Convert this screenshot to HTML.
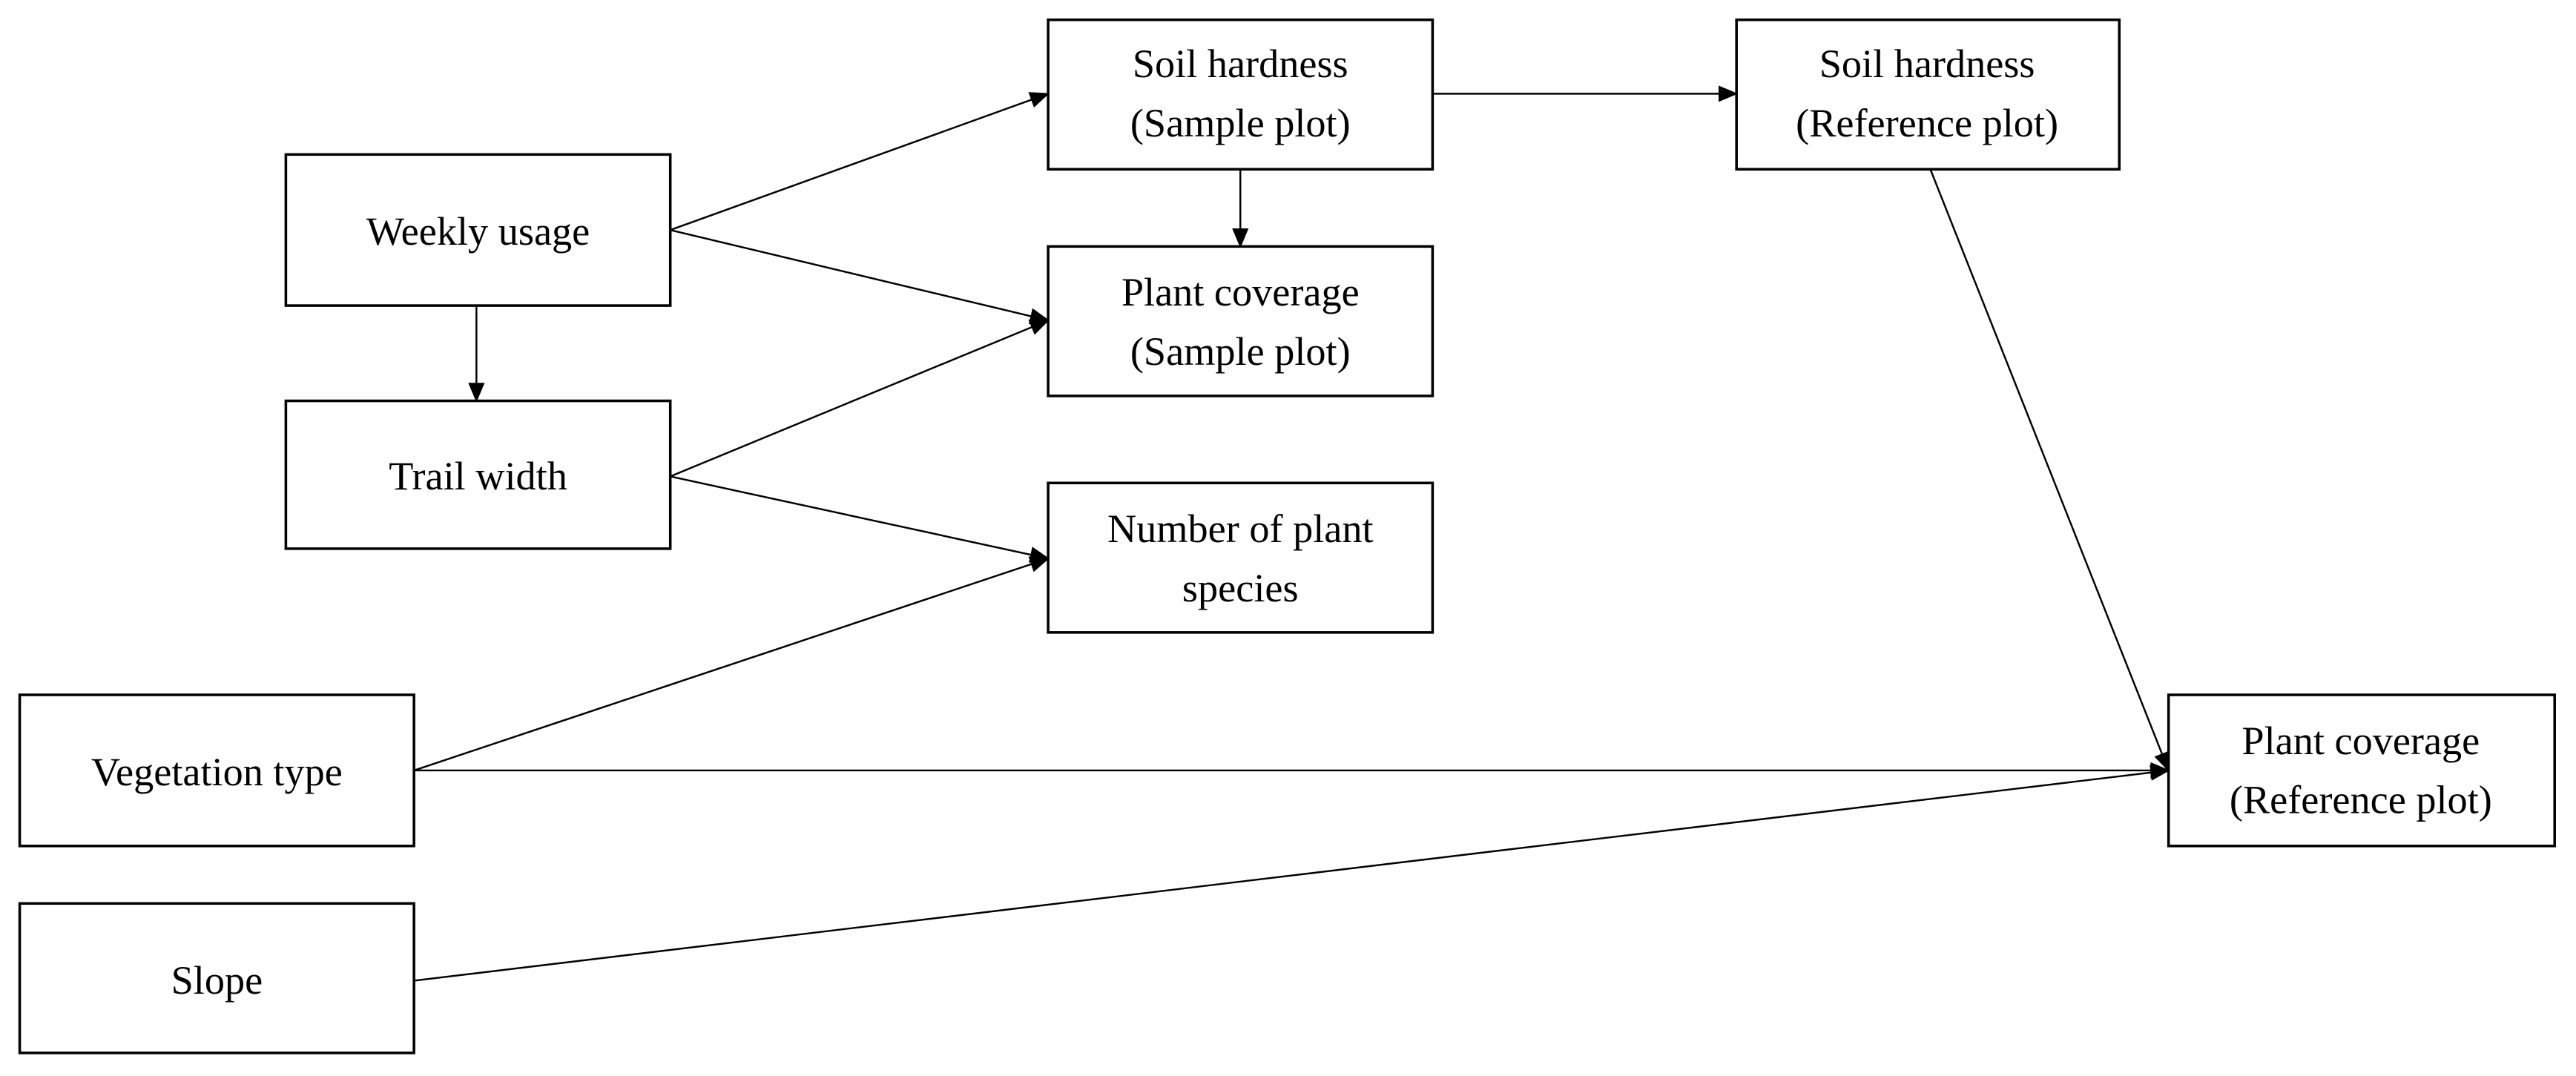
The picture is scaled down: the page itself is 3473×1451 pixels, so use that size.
<!DOCTYPE html>
<html><head><meta charset="utf-8"><style>
html,body{margin:0;padding:0;background:#fff;}
svg{display:block;}
text{font-family:"Liberation Serif",serif;font-size:24.5px;fill:#000;text-anchor:middle;}
rect{fill:#fff;stroke:#000;stroke-width:1.6;}
line{stroke:#000;stroke-width:1.1;}
</style></head><body>
<svg width="3473" height="1451" viewBox="0 0 1568 655" xmlns="http://www.w3.org/2000/svg">
<defs><marker id="a" markerWidth="12" markerHeight="10" refX="11" refY="5" orient="auto" markerUnits="userSpaceOnUse"><path d="M0,0 L12,5 L0,10 z" fill="#000"/></marker></defs>
<g marker-end="url(#a)">
<line x1="408" y1="140" x2="638" y2="57" marker-end="url(#a)"/>
<line x1="408" y1="140" x2="638" y2="195" marker-end="url(#a)"/>
<line x1="290" y1="186" x2="290" y2="244" marker-end="url(#a)"/>
<line x1="755" y1="103" x2="755" y2="150" marker-end="url(#a)"/>
<line x1="872" y1="57" x2="1057" y2="57" marker-end="url(#a)"/>
<line x1="408" y1="290" x2="638" y2="195" marker-end="url(#a)"/>
<line x1="408" y1="290" x2="638" y2="340" marker-end="url(#a)"/>
<line x1="252" y1="469" x2="638" y2="340" marker-end="url(#a)"/>
<line x1="252" y1="469" x2="1320" y2="469" marker-end="url(#a)"/>
<line x1="252" y1="597" x2="1320" y2="469" marker-end="url(#a)"/>
<line x1="1175" y1="103" x2="1320" y2="469" marker-end="url(#a)"/>
</g>
<rect x="174" y="94" width="234" height="92"/>
<text x="291" y="149">Weekly usage</text>
<rect x="174" y="244" width="234" height="90"/>
<text x="291" y="298">Trail width</text>
<rect x="638" y="12" width="234" height="91"/>
<text x="755" y="47">Soil hardness</text>
<text x="755" y="83">(Sample plot)</text>
<rect x="638" y="150" width="234" height="91"/>
<text x="755" y="186">Plant coverage</text>
<text x="755" y="222">(Sample plot)</text>
<rect x="638" y="294" width="234" height="91"/>
<text x="755" y="330">Number of plant</text>
<text x="755" y="366">species</text>
<rect x="1057" y="12" width="233" height="91"/>
<text x="1173" y="47">Soil hardness</text>
<text x="1173" y="83">(Reference plot)</text>
<rect x="12" y="423" width="240" height="92"/>
<text x="132" y="478">Vegetation type</text>
<rect x="12" y="550" width="240" height="91"/>
<text x="132" y="605">Slope</text>
<rect x="1320" y="423" width="235" height="92"/>
<text x="1437" y="459">Plant coverage</text>
<text x="1437" y="495">(Reference plot)</text>
</svg>
</body></html>
